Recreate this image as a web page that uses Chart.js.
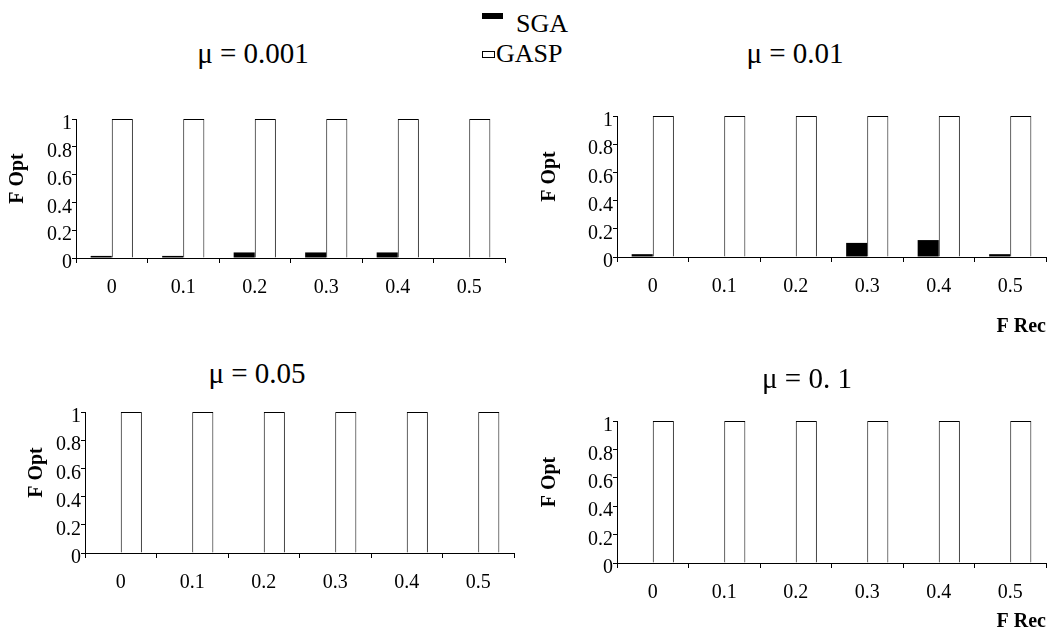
<!DOCTYPE html>
<html>
<head>
<meta charset="utf-8">
<title>F Opt x F Rec</title>
<script src="https://cdn.jsdelivr.net/npm/chart.js@4.4.0/dist/chart.umd.min.js"></script>
<style>
    body {
        margin: 0;
        width: 1050px;
        height: 639px;
        position: relative;
        overflow: hidden;
        background: #fff;
        color: #000;
        font-family: "Liberation Serif", "Times New Roman", serif;
    }
    .painel { position: absolute; }
    .titulo {
        position: absolute;
        font-size: 29px;
        line-height: 1;
        white-space: nowrap;
        transform: translate(-50%, -50%);
    }
    .legenda-texto {
        position: absolute;
        font-size: 26px;
        line-height: 1;
        white-space: nowrap;
        transform: translateY(-50%);
    }
    .simbolo { position: absolute; box-sizing: border-box; }
</style>
</head>
<body>

<div class="simbolo" style="left:482px; top:13px; width:21px; height:6px; background:#000;"></div>
<div class="legenda-texto" style="left:516px; top:24px;">SGA</div>
<div class="simbolo" style="left:482px; top:51px; width:13px; height:7px; border:1px solid #000; background:#fff;"></div>
<div class="legenda-texto" style="left:496px; top:54px;">GASP</div>

<div id="p1" class="painel"><canvas></canvas></div>
<div id="p2" class="painel"><canvas></canvas></div>
<div id="p3" class="painel"><canvas></canvas></div>
<div id="p4" class="painel"><canvas></canvas></div>

<script>
// Dados
var categorias = ['0', '0.1', '0.2', '0.3', '0.4', '0.5'];
var yTicks = [0, 0.2, 0.4, 0.6, 0.8, 1];
var yTickLabels = ['0', '0.2', '0.4', '0.6', '0.8', '1'];
var series = ['SGA', 'GASP'];
var titulos = ['\u03bc = 0.001', '\u03bc = 0.01', '\u03bc = 0.05', '\u03bc = 0. 1'];

var sga001 = [0.015, 0.015, 0.04, 0.04, 0.04, 0];
var gasp001 = [1, 1, 1, 1, 1, 1];
var sga01 = [0.02, 0, 0, 0.1, 0.12, 0.02];
var gasp01 = [1, 1, 1, 1, 1, 1];
var sga05 = [0, 0, 0, 0, 0, 0];
var gasp05 = [1, 1, 1, 1, 1, 1];
var sga1 = [0, 0, 0, 0, 0, 0];
var gasp1 = [1, 1, 1, 1, 1, 1];

var fonte = '"Liberation Serif", "Times New Roman", serif';

document.addEventListener("DOMContentLoaded", function () {
    criarPainel('p1', {x: 0, y: 90, w: 520, h: 220}, {l: 76, t: 119, r: 505, b: 258}, sga001, gasp001, false, 6);
    criarPainel('p2', {x: 530, y: 90, w: 520, h: 251}, {l: 617, t: 116, r: 1046, b: 257}, sga01, gasp01, true, 8);
    criarPainel('p3', {x: 0, y: 390, w: 530, h: 220}, {l: 85, t: 412, r: 514, b: 553}, sga05, gasp05, false, 25);
    criarPainel('p4', {x: 530, y: 390, w: 520, h: 246}, {l: 617, t: 421, r: 1046, b: 563}, sga1, gasp1, true, 8);

    // Titulos de cada painel
    var centros = [[253, 53], [795, 53], [257, 373], [807, 378]];
    for (var i = 0; i < titulos.length; i++) {
        var t = document.createElement('div');
        t.className = 'titulo';
        t.textContent = titulos[i];
        t.style.left = centros[i][0] + 'px';
        t.style.top = centros[i][1] + 'px';
        document.body.appendChild(t);
    }
});

function criarPainel(id, caixa, area, sga, gasp, mostrarRec, padTituloY) {
    var div = document.getElementById(id);
    div.style.left = caixa.x + 'px';
    div.style.top = caixa.y + 'px';
    var canvas = div.querySelector('canvas');
    canvas.width = caixa.w;
    canvas.height = caixa.h;

    var larguraY = area.l - caixa.x;
    var alturaX = caixa.y + caixa.h - area.b;

    new Chart(canvas.getContext('2d'), {
        type: 'bar',
        data: {
            labels: categorias,
            datasets: [{
                label: series[0],
                data: sga,
                backgroundColor: '#000',
                borderColor: '#000',
                borderWidth: 0,
                categoryPercentage: 0.59,
                barPercentage: 1
            }, {
                label: series[1],
                data: gasp,
                backgroundColor: '#fff',
                borderColor: '#000',
                borderWidth: 1,
                categoryPercentage: 0.59,
                barPercentage: 1
            }]
        },
        options: {
            responsive: false,
            animation: false,
            layout: {
                padding: {left: 0, top: area.t - caixa.y, right: caixa.x + caixa.w - area.r, bottom: 0}
            },
            scales: {
                x: {
                    grid: {offset: true, drawOnChartArea: false, tickLength: 5, color: '#000'},
                    border: {color: '#000', width: 1},
                    ticks: {color: '#000', padding: 13, maxRotation: 0, font: {family: fonte, size: 20}},
                    title: {
                        display: mostrarRec,
                        text: 'F Rec',
                        align: 'end',
                        color: '#000',
                        font: {family: fonte, size: 20, weight: 'bold'},
                        padding: {top: 0, bottom: 2}
                    },
                    afterFit: function (s) { s.height = alturaX; }
                },
                y: {
                    min: 0,
                    max: 1,
                    afterBuildTicks: function (s) {
                        s.ticks = yTicks.map(function (v) { return {value: v}; });
                    },
                    grid: {drawOnChartArea: false, tickLength: 4, color: '#000'},
                    border: {color: '#000', width: 1},
                    ticks: {
                        color: '#000',
                        padding: 0,
                        labelOffset: 5,
                        font: {family: fonte, size: 20},
                        callback: function (valor, indice) { return yTickLabels[indice]; }
                    },
                    title: {
                        display: true,
                        text: '    F Opt',
                        color: '#000',
                        font: {family: fonte, size: 20, weight: 'bold'},
                        padding: {top: padTituloY, bottom: 0}
                    },
                    afterFit: function (s) { s.width = larguraY; }
                }
            },
            plugins: {
                legend: {display: false},
                tooltip: {enabled: false}
            }
        }
    });
}
</script>
</body>
</html>
